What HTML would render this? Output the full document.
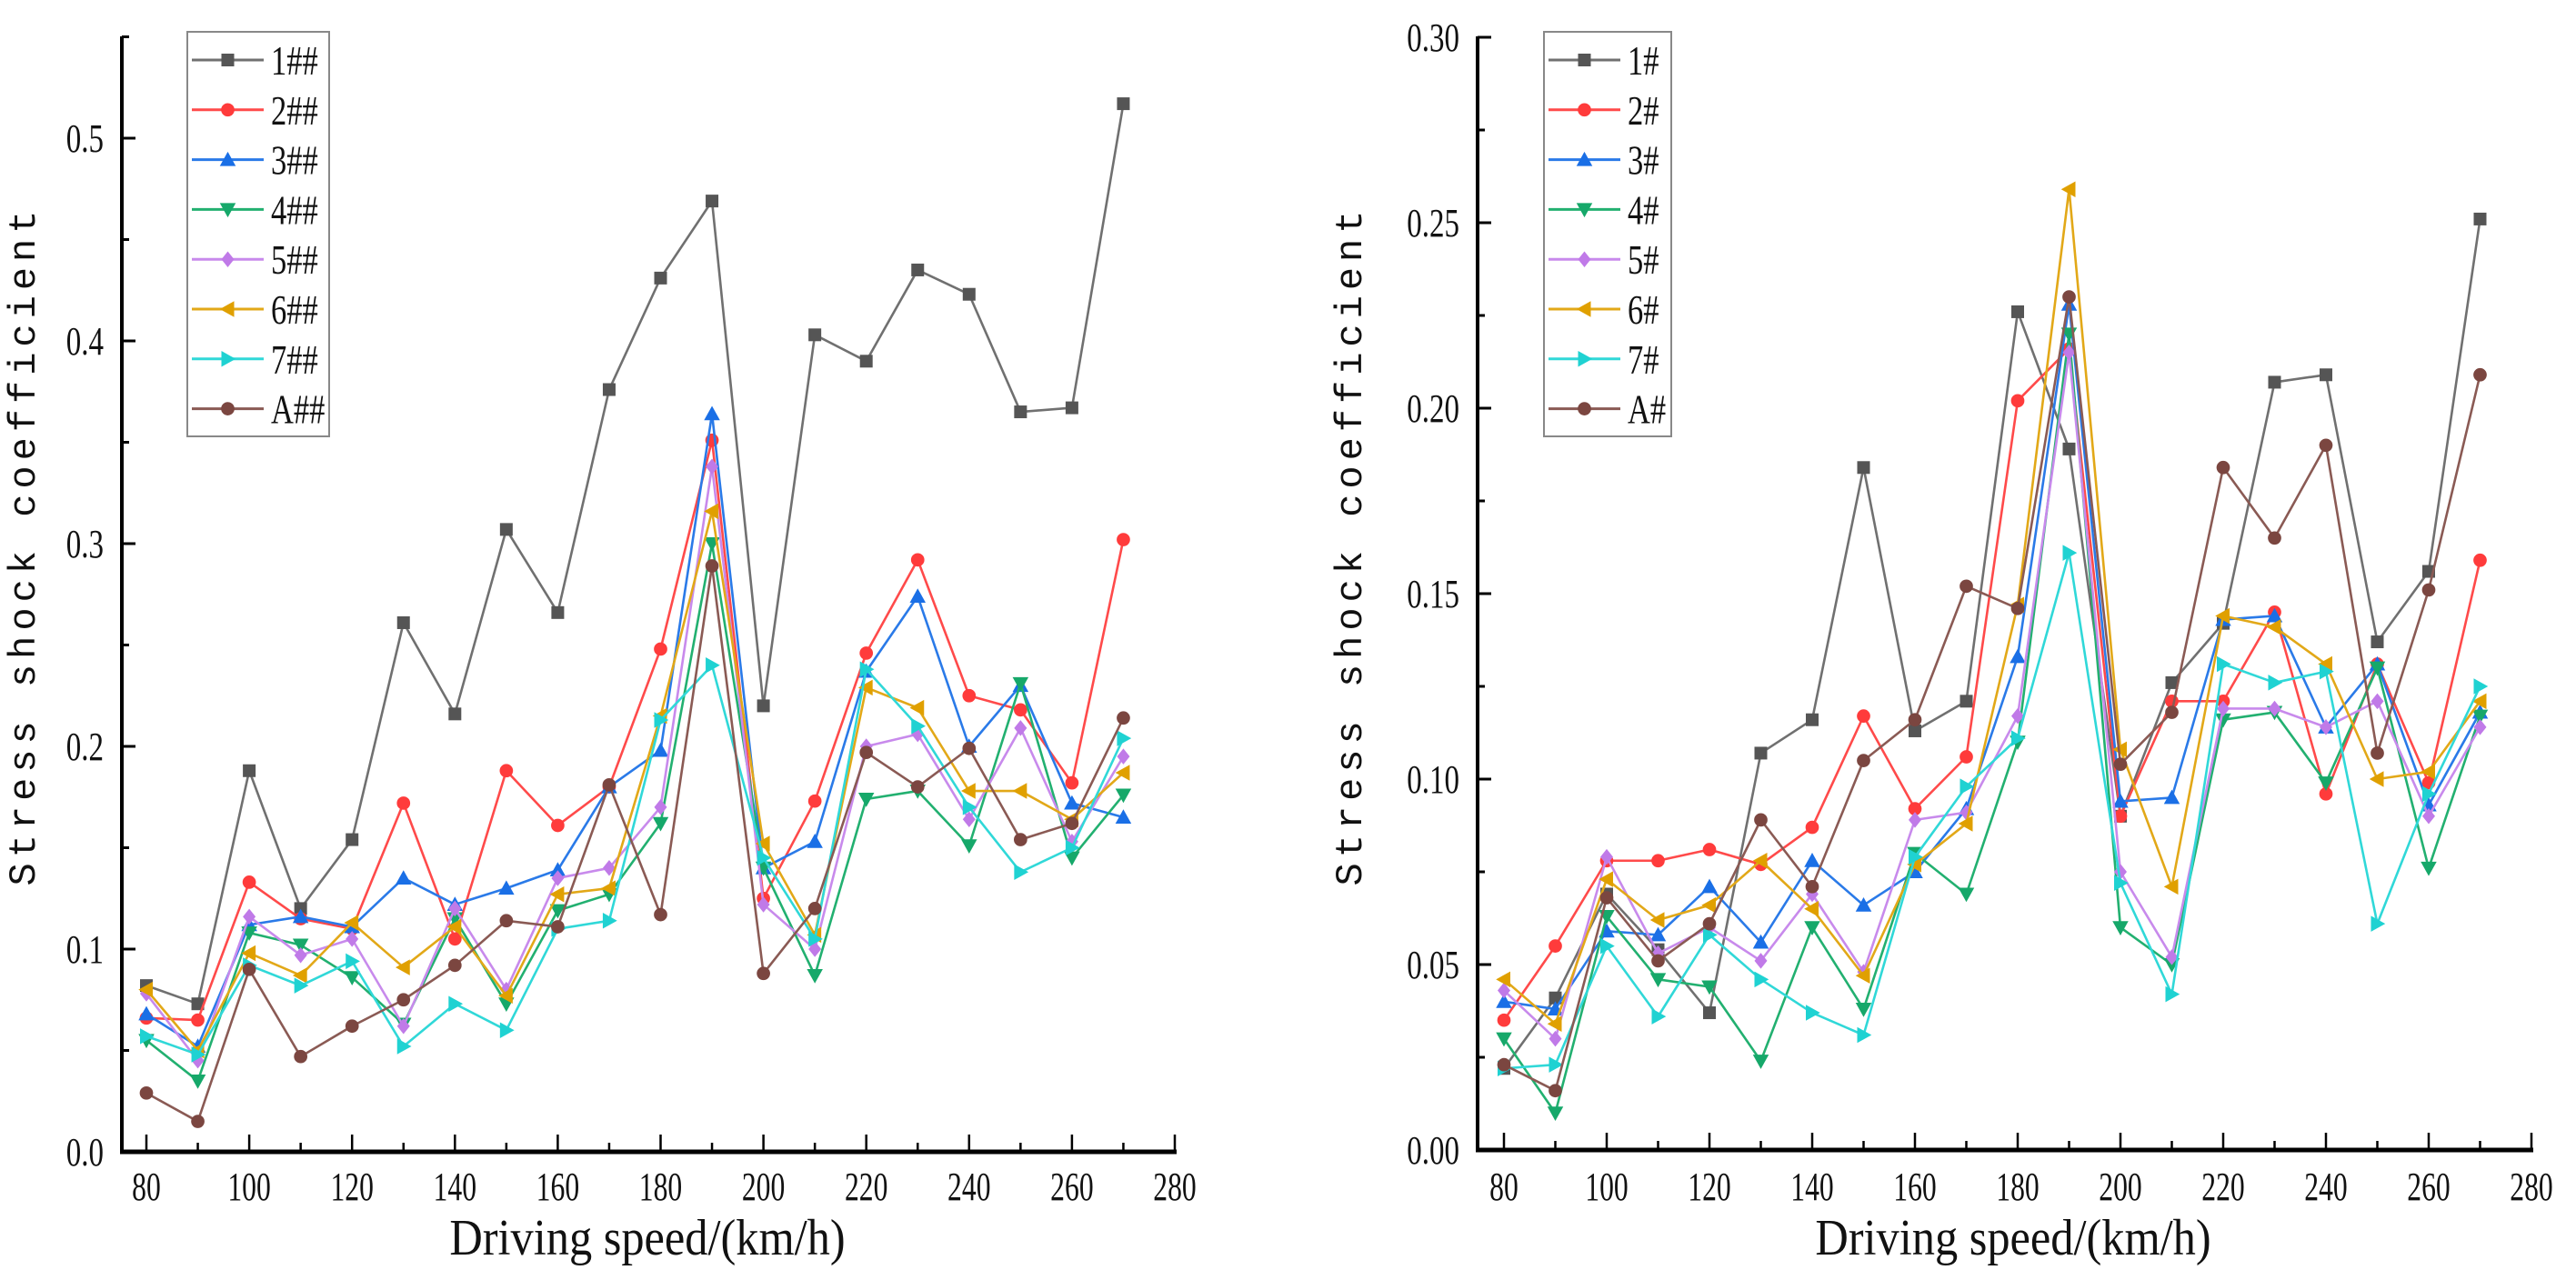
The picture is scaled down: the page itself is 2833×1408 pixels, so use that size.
<!DOCTYPE html>
<html><head><meta charset="utf-8"><style>
html,body{margin:0;padding:0;background:#fff;}
svg{display:block;}
</style></head><body>
<svg id="chart" width="2833" height="1408" xmlns="http://www.w3.org/2000/svg"></svg>
<script>
const speeds = [80,90,100,110,120,130,140,150,160,170,180,190,200,210,220,230,240,250,260,270];
const leftNames = ["1##","2##","3##","4##","5##","6##","7##","A##"];
const rightNames = ["1#","2#","3#","4#","5#","6#","7#","A#"];
const L1 = [0.082,0.073,0.188,0.12,0.154,0.261,0.216,0.307,0.266,0.376,0.431,0.469,0.220,0.403,0.390,0.435,0.423,0.365,0.367,0.517];
const L2 = [0.066,0.065,0.133,0.115,0.110,0.172,0.105,0.188,0.161,0.180,0.248,0.351,0.125,0.173,0.246,0.292,0.225,0.218,0.182,0.302];
const L3 = [0.068,0.052,0.112,0.116,0.111,0.135,0.122,0.130,0.139,0.180,0.198,0.364,0.140,0.153,0.237,0.274,0.200,0.230,0.172,0.165];
const L4 = [0.055,0.035,0.108,0.102,0.086,0.063,0.115,0.073,0.119,0.127,0.162,0.300,0.140,0.087,0.174,0.178,0.151,0.231,0.145,0.176];
const L5 = [0.078,0.045,0.116,0.097,0.105,0.062,0.120,0.080,0.135,0.140,0.170,0.338,0.122,0.100,0.200,0.206,0.164,0.209,0.153,0.195];
const L6 = [0.080,0.050,0.098,0.087,0.113,0.091,0.111,0.077,0.127,0.130,0.215,0.316,0.152,0.107,0.229,0.219,0.178,0.178,0.164,0.187];
const L7 = [0.057,0.048,0.092,0.082,0.094,0.052,0.073,0.060,0.110,0.114,0.213,0.240,0.145,0.105,0.238,0.210,0.170,0.138,0.150,0.204];
const LA = [0.029,0.015,0.090,0.047,0.062,0.075,0.092,0.114,0.111,0.181,0.117,0.289,0.088,0.120,0.197,0.180,0.199,0.154,0.162,0.214];
const R1 = [0.022,0.041,0.069,0.054,0.037,0.107,0.116,0.184,0.113,0.121,0.226,0.189,0.090,0.126,0.142,0.207,0.209,0.137,0.156,0.251];
const R2 = [0.035,0.055,0.078,0.078,0.081,0.077,0.087,0.117,0.092,0.106,0.202,0.216,0.090,0.121,0.121,0.145,0.096,0.131,0.099,0.159];
const R3 = [0.040,0.038,0.059,0.058,0.071,0.056,0.078,0.066,0.075,0.092,0.133,0.228,0.094,0.095,0.143,0.144,0.114,0.131,0.093,0.118];
const R4 = [0.030,0.010,0.063,0.046,0.044,0.024,0.060,0.038,0.080,0.069,0.110,0.220,0.060,0.050,0.116,0.118,0.099,0.130,0.076,0.117];
const R5 = [0.043,0.030,0.079,0.053,0.060,0.051,0.069,0.048,0.089,0.091,0.117,0.215,0.075,0.052,0.119,0.119,0.114,0.121,0.090,0.114];
const R6 = [0.046,0.034,0.073,0.062,0.066,0.078,0.065,0.047,0.077,0.088,0.147,0.259,0.108,0.071,0.144,0.141,0.131,0.100,0.102,0.121];
const R7 = [0.022,0.023,0.055,0.036,0.058,0.046,0.037,0.031,0.079,0.098,0.111,0.161,0.072,0.042,0.131,0.126,0.129,0.061,0.096,0.125];
const RA = [0.023,0.016,0.068,0.051,0.061,0.089,0.071,0.105,0.116,0.152,0.146,0.230,0.104,0.118,0.184,0.165,0.190,0.107,0.151,0.209];
const xTicks = [80,100,120,140,160,180,200,220,240,260,280];
const leftYTicks = [0.0,0.1,0.2,0.3,0.4,0.5];
const leftYLabels = ["0.0","0.1","0.2","0.3","0.4","0.5"];
const rightYTicks = [0.00,0.05,0.10,0.15,0.20,0.25,0.30];
const rightYLabels = ["0.00","0.05","0.10","0.15","0.20","0.25","0.30"];

const colors = ["#555555","#ff3b3b","#1a6fe6","#16a86a","#c07ae8","#e0a000","#1fd2d2","#7b4640"];
const lineColors = ["#707070","#ff4a4a","#2a7ae8","#22b070","#c88aec","#e2a818","#30d8d8","#8a5a54"];
const markers = ["square","circle","up","down","diamond","left","right","circle"];
const NS = "http://www.w3.org/2000/svg";
const svg = document.getElementById("chart");
function el(tag, attrs, parent){const e=document.createElementNS(NS,tag);for(const k in attrs)e.setAttribute(k,attrs[k]);(parent||svg).appendChild(e);return e;}
function marker(g,type,x,y,c,s){
  let e;
  if(type==="square") e=el("rect",{x:x-s,y:y-s,width:2*s,height:2*s,fill:c},g);
  else if(type==="circle") e=el("circle",{cx:x,cy:y,r:s*1.05,fill:c},g);
  else {
    let p;
    const t=s*1.25;
    if(type==="up") p=[[x,y-t],[x+t,y+t*0.8],[x-t,y+t*0.8]];
    if(type==="down") p=[[x,y+t],[x+t,y-t*0.8],[x-t,y-t*0.8]];
    if(type==="left") p=[[x-t,y],[x+t*0.8,y-t],[x+t*0.8,y+t]];
    if(type==="right") p=[[x+t,y],[x-t*0.8,y-t],[x-t*0.8,y+t]];
    if(type==="diamond") p=[[x,y-t],[x+t*0.8,y],[x,y+t],[x-t*0.8,y]];
    e=el("polygon",{points:p.map(q=>q.join(",")).join(" "),fill:c},g);
  }
  return e;
}
function condText(parent,x,y,str,size,anchor,sx){
  const g=el("g",{transform:`translate(${x},${y}) scale(${sx},1)`},parent);
  const t=el("text",{x:0,y:0,"font-family":"Liberation Serif, serif","font-size":size,"text-anchor":anchor,fill:"#111"},g);
  t.textContent=str;
  return t;
}

function panel(cfg){
  const g=el("g",{});
  
  
  const X=v=>cfg.x0+(v-80)*cfg.xs;
  const Y=v=>cfg.y0-v*cfg.ys;
  cfg.series.forEach((vals,i)=>{
    const sg=el("g",{},g);
    
    
    const pts=speeds.map((s,j)=>X(s)+","+Y(vals[j])).join(" ");
    el("polyline",{points:pts,fill:"none",stroke:lineColors[i],"stroke-width":2.6,"stroke-linejoin":"round"},sg);
    speeds.forEach((s,j)=>{const m=marker(sg,markers[i],X(s),Y(vals[j]),colors[i],7);
      
      });
  });
  const ax=el("g",{},g);
  
  
  el("line",{x1:cfg.axX,y1:cfg.top,x2:cfg.axX,y2:cfg.y0+2,stroke:"#000","stroke-width":4},ax);
  el("line",{x1:cfg.axX-2,y1:cfg.y0,x2:X(280)+2,y2:cfg.y0,stroke:"#000","stroke-width":5},ax);
  for(let v=80;v<=280;v+=10){
    const major=(v%20===0);
    el("line",{x1:X(v),y1:cfg.y0,x2:X(v),y2:cfg.y0-(major?19:10),stroke:"#000","stroke-width":2.5},ax);
  }
  xTicks.forEach(v=>{const t=condText(ax,X(v),1320,String(v),44,"middle",0.72);
    });
  const step=cfg.yTicks[1]-cfg.yTicks[0];
  for(let k=0;k<=cfg.yTicks.length*2;k++){
    const v=k*step/2; const y=Y(v); if(y<cfg.top-1) break;
    el("line",{x1:cfg.axX,y1:y,x2:cfg.axX+(k%2===0?15:8),y2:y,stroke:"#000","stroke-width":3},ax);
  }
  cfg.yTicks.forEach((v,i)=>{const t=condText(ax,cfg.axX-20,Y(v)+15,cfg.yLabels[i],44,"end",0.75);
    });
  const xt=condText(g,cfg.xtCenter,1380,"Driving speed/(km/h)",56,"middle",0.9);
  
  const yt=el("text",{x:0,y:0,transform:`translate(${cfg.ytX},600) rotate(-90)`,"font-family":"Liberation Mono, monospace","font-size":42,"letter-spacing":6,"text-anchor":"middle",fill:"#111"},g);
  yt.textContent="Stress shock coefficient";
  
  const lg=el("g",{},g);
  
  
  el("rect",{x:cfg.lgX,y:35,width:cfg.lgW,height:445,fill:"#fff",stroke:"#888","stroke-width":2},lg);
  cfg.names.forEach((n,i)=>{
    const y=66+i*54.8;
    const e=el("g",{},lg);
    
    
    el("line",{x1:cfg.lgX+5,y1:y,x2:cfg.lgX+cfg.lineLen,y2:y,stroke:lineColors[i],"stroke-width":3},e);
    marker(e,markers[i],cfg.lgX+5+(cfg.lineLen-5)/2,y,colors[i],7);
    condText(e,cfg.lgX+cfg.lineLen+8,y+16,n,46,"start",0.75);
  });
}
panel({name:"left-chart",side:"left",x0:161,xs:5.655,y0:1267,ys:2230,axX:134,top:40,
  series:[L1,L2,L3,L4,L5,L6,L7,LA],names:leftNames,yTicks:leftYTicks,yLabels:leftYLabels,
  xtCenter:712,ytX:38,lgX:206,lgW:156,lineLen:84});
panel({name:"right-chart",side:"right",x0:1654,xs:5.65,y0:1265,ys:4080,axX:1625,top:40,
  series:[R1,R2,R3,R4,R5,R6,R7,RA],names:rightNames,yTicks:rightYTicks,yLabels:rightYLabels,
  xtCenter:2214,ytX:1497,lgX:1698,lgW:140,lineLen:84});
</script>
</body></html>
